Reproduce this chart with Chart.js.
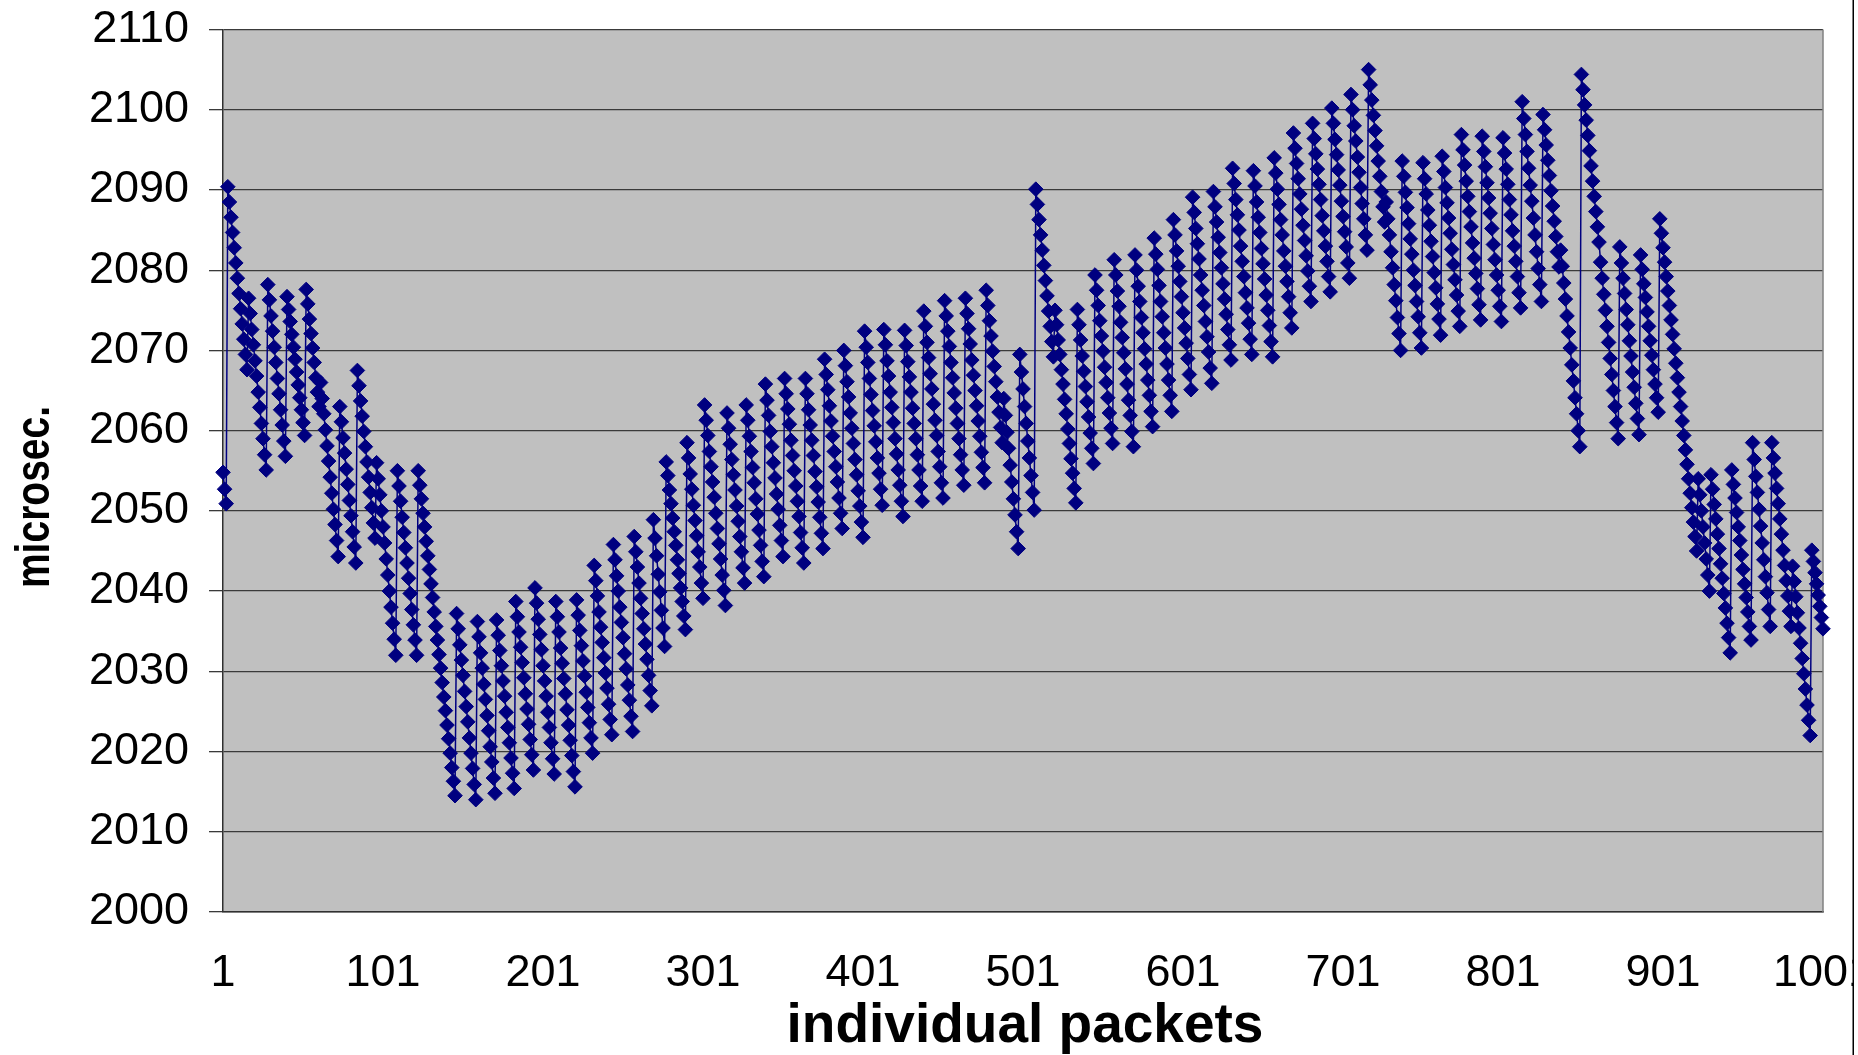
<!DOCTYPE html>
<html>
<head>
<meta charset="utf-8">
<title>Packet delay</title>
<script src="https://cdn.jsdelivr.net/npm/chart.js@4/dist/chart.umd.min.js"></script>
<style>
  html, body { margin: 0; padding: 0; background: #ffffff; }
  #wrap { width: 1858px; height: 1055px; position: relative; }
</style>
</head>
<body>
<div id="wrap"><canvas id="chart"></canvas></div>
<script>
// Tick positions shown on each axis
const packetTicks = [1, 101, 201, 301, 401, 501, 601, 701, 801, 901, 1001];
const delayTicks = [2000, 2010, 2020, 2030, 2040, 2050, 2060, 2070, 2080, 2090, 2100, 2110];

// Axis titles
const xTitle = 'individual packets';
const yTitle = 'microsec.';

// Measured delay of packets 1..1001 (microseconds), one row per sawtooth run
const latency = [
  2054.8, 2052.7, 2050.9,
  2090.4, 2088.5, 2086.6, 2084.7, 2082.8, 2080.9, 2079.0, 2077.1, 2075.2, 2073.3, 2071.4, 2069.5, 2067.6,
  2076.5, 2074.6, 2072.6, 2070.7, 2068.7, 2066.8, 2064.8, 2062.9, 2060.9, 2059.0, 2057.0, 2055.1,
  2078.2, 2076.3, 2074.3, 2072.4, 2070.4, 2068.5, 2066.5, 2064.6, 2062.6, 2060.7, 2058.7, 2056.8,
  2076.7, 2075.1, 2073.6, 2072.0, 2070.4, 2068.9, 2067.3, 2065.7, 2064.1, 2062.6, 2061.0, 2059.4,
  2077.6, 2075.8, 2073.9, 2072.1, 2070.3, 2068.5, 2066.6, 2064.8, 2063.0,
  2066.0, 2064.0, 2062.1, 2060.1, 2058.1, 2056.2, 2054.2, 2052.2, 2050.2, 2048.3, 2046.3, 2044.3,
  2063.0, 2061.1, 2059.1, 2057.2, 2055.2, 2053.3, 2051.3, 2049.4, 2047.4, 2045.5, 2043.5,
  2067.5, 2065.6, 2063.7, 2061.8, 2059.9, 2058.0, 2056.1, 2054.2, 2052.3, 2050.4, 2048.5, 2046.6,
  2056.0, 2054.0, 2052.0, 2050.0, 2048.0, 2046.0, 2044.0, 2042.0, 2040.0, 2038.0, 2036.0, 2034.0, 2032.0,
  2055.0, 2053.1, 2051.2, 2049.2, 2047.3, 2045.4, 2043.5, 2041.6, 2039.7, 2037.7, 2035.8, 2033.9, 2032.0,
  2055.0, 2053.2, 2051.5, 2049.7, 2048.0, 2046.2, 2044.4, 2042.7, 2040.9, 2039.2, 2037.4, 2035.6,
  2033.9, 2032.1, 2030.4, 2028.6, 2026.8, 2025.1, 2023.3, 2021.6, 2019.8, 2018.0, 2016.3, 2014.5,
  2037.2, 2035.3, 2033.3, 2031.4, 2029.5, 2027.5, 2025.6, 2023.7, 2021.7, 2019.8, 2017.9, 2015.9, 2014.0,
  2036.2, 2034.3, 2032.3, 2030.4, 2028.4, 2026.5, 2024.5, 2022.6, 2020.6, 2018.7, 2016.7, 2014.8,
  2036.4, 2034.5, 2032.6, 2030.7, 2028.8, 2026.9, 2024.9, 2023.0, 2021.1, 2019.2, 2017.3, 2015.4,
  2038.7, 2036.8, 2034.9, 2033.0, 2031.1, 2029.2, 2027.2, 2025.3, 2023.4, 2021.5, 2019.6, 2017.7,
  2040.4, 2038.5, 2036.5, 2034.6, 2032.7, 2030.7, 2028.8, 2026.9, 2024.9, 2023.0, 2021.1, 2019.1, 2017.2,
  2038.7, 2036.8, 2034.9, 2032.9, 2031.0, 2029.1, 2027.2, 2025.2, 2023.3, 2021.4, 2019.5, 2017.5, 2015.6,
  2038.9, 2037.0, 2035.1, 2033.2, 2031.3, 2029.4, 2027.4, 2025.5, 2023.6, 2021.7, 2019.8,
  2043.2, 2041.3, 2039.4, 2037.4, 2035.5, 2033.6, 2031.7, 2029.8, 2027.9, 2025.9, 2024.0, 2022.1,
  2045.8, 2043.9, 2041.9, 2040.0, 2038.0, 2036.1, 2034.2, 2032.2, 2030.3, 2028.3, 2026.4, 2024.4, 2022.5,
  2046.8, 2044.9, 2043.0, 2041.0, 2039.1, 2037.2, 2035.3, 2033.4, 2031.5, 2029.5, 2027.6, 2025.7,
  2048.9, 2046.6, 2044.4, 2042.1, 2039.9, 2037.6, 2035.4, 2033.1,
  2056.1, 2054.4, 2052.6, 2050.9, 2049.1, 2047.4, 2045.7, 2043.9, 2042.2, 2040.4, 2038.7, 2036.9, 2035.2,
  2058.5, 2056.6, 2054.6, 2052.7, 2050.7, 2048.8, 2046.9, 2044.9, 2043.0, 2041.0, 2039.1,
  2063.2, 2061.3, 2059.4, 2057.4, 2055.5, 2053.6, 2051.7, 2049.7, 2047.8, 2045.9, 2044.0, 2042.0, 2040.1, 2038.2,
  2062.2, 2060.3, 2058.3, 2056.4, 2054.5, 2052.6, 2050.6, 2048.7, 2046.8, 2044.9, 2042.9, 2041.0,
  2063.2, 2061.3, 2059.3, 2057.4, 2055.4, 2053.5, 2051.5, 2049.6, 2047.6, 2045.7, 2043.7, 2041.8,
  2065.8, 2063.8, 2061.9, 2059.9, 2058.0, 2056.0, 2054.1, 2052.1, 2050.2, 2048.2, 2046.3, 2044.3,
  2066.5, 2064.6, 2062.7, 2060.8, 2058.8, 2056.9, 2055.0, 2053.1, 2051.2, 2049.3, 2047.3, 2045.4, 2043.5,
  2066.5, 2064.6, 2062.6, 2060.7, 2058.8, 2056.9, 2054.9, 2053.0, 2051.1, 2049.2, 2047.2, 2045.3,
  2068.9, 2067.0, 2065.1, 2063.1, 2061.2, 2059.3, 2057.4, 2055.5, 2053.6, 2051.6, 2049.7, 2047.8,
  2070.0, 2068.1, 2066.1, 2064.2, 2062.2, 2060.3, 2058.4, 2056.4, 2054.5, 2052.5, 2050.6, 2048.6, 2046.7,
  2072.4, 2070.4, 2068.5, 2066.5, 2064.5, 2062.5, 2060.6, 2058.6, 2056.6, 2054.7, 2052.7, 2050.7,
  2072.6, 2070.7, 2068.7, 2066.8, 2064.8, 2062.9, 2061.0, 2059.0, 2057.1, 2055.1, 2053.2, 2051.2, 2049.3,
  2072.5, 2070.6, 2068.6, 2066.7, 2064.8, 2062.8, 2060.9, 2059.0, 2057.0, 2055.1, 2053.1, 2051.2,
  2074.9, 2073.0, 2071.0, 2069.1, 2067.1, 2065.2, 2063.3, 2061.3, 2059.4, 2057.4, 2055.5, 2053.5, 2051.6,
  2076.2, 2074.3, 2072.4, 2070.5, 2068.5, 2066.6, 2064.7, 2062.8, 2060.9, 2059.0, 2057.0, 2055.1, 2053.2,
  2076.5, 2074.6, 2072.7, 2070.8, 2068.8, 2066.9, 2065.0, 2063.1, 2061.2, 2059.3, 2057.3, 2055.4, 2053.5,
  2077.5, 2075.6, 2073.7, 2071.8, 2069.9, 2068.0, 2066.1, 2064.2, 2062.3, 2060.4, 2058.5,
  2064.0, 2061.9, 2059.8, 2057.8, 2055.7, 2053.6, 2051.5, 2049.5, 2047.4, 2045.3,
  2069.5, 2067.3, 2065.2, 2063.0, 2060.9, 2058.7, 2056.6, 2054.4, 2052.3, 2050.1,
  2090.1, 2088.2, 2086.3, 2084.4, 2082.5, 2080.6, 2078.7, 2076.8, 2074.9, 2073.0, 2071.1, 2069.2,
  2075.0, 2073.2, 2071.3, 2069.5, 2067.6, 2065.8, 2063.9, 2062.1, 2060.2, 2058.4, 2056.5, 2054.7, 2052.8, 2051.0,
  2075.1, 2073.2, 2071.3, 2069.3, 2067.4, 2065.5, 2063.6, 2061.7, 2059.7, 2057.8, 2055.9,
  2079.4, 2077.5, 2075.6, 2073.7, 2071.8, 2069.9, 2067.9, 2066.0, 2064.1, 2062.2, 2060.3, 2058.4,
  2081.3, 2079.4, 2077.4, 2075.5, 2073.5, 2071.6, 2069.7, 2067.7, 2065.8, 2063.8, 2061.9, 2059.9, 2058.0,
  2081.9, 2080.0, 2078.0, 2076.1, 2074.1, 2072.2, 2070.2, 2068.3, 2066.3, 2064.4, 2062.4, 2060.5,
  2084.0, 2082.0, 2080.1, 2078.1, 2076.1, 2074.2, 2072.2, 2070.3, 2068.3, 2066.3, 2064.4, 2062.4,
  2086.3, 2084.4, 2082.4, 2080.5, 2078.6, 2076.7, 2074.7, 2072.8, 2070.9, 2069.0, 2067.0, 2065.1,
  2089.1, 2087.2, 2085.2, 2083.3, 2081.4, 2079.4, 2077.5, 2075.6, 2073.6, 2071.7, 2069.8, 2067.8, 2065.9,
  2089.8, 2087.9, 2086.0, 2084.1, 2082.2, 2080.3, 2078.3, 2076.4, 2074.5, 2072.6, 2070.7, 2068.8,
  2092.7, 2090.8, 2088.8, 2086.9, 2085.0, 2083.0, 2081.1, 2079.2, 2077.2, 2075.3, 2073.4, 2071.4, 2069.5,
  2092.4, 2090.5, 2088.5, 2086.6, 2084.7, 2082.7, 2080.8, 2078.9, 2076.9, 2075.0, 2073.1, 2071.1, 2069.2,
  2094.0, 2092.1, 2090.1, 2088.2, 2086.3, 2084.4, 2082.4, 2080.5, 2078.6, 2076.7, 2074.7, 2072.8,
  2097.1, 2095.2, 2093.3, 2091.4, 2089.5, 2087.6, 2085.6, 2083.7, 2081.8, 2079.9, 2078.0, 2076.1,
  2098.3, 2096.4, 2094.5, 2092.6, 2090.7, 2088.8, 2086.8, 2084.9, 2083.0, 2081.1, 2079.2, 2077.3,
  2100.2, 2098.3, 2096.3, 2094.4, 2092.5, 2090.6, 2088.6, 2086.7, 2084.8, 2082.9, 2080.9, 2079.0,
  2101.9, 2100.0, 2098.0, 2096.1, 2094.1, 2092.2, 2090.3, 2088.3, 2086.4, 2084.4, 2082.5,
  2105.0, 2103.1, 2101.2, 2099.3, 2097.4, 2095.5, 2093.6, 2091.7, 2089.8, 2087.9, 2086.0,
  2088.5, 2086.4, 2084.4, 2082.3, 2080.3, 2078.2, 2076.2, 2074.1, 2072.1, 2070.0,
  2093.6, 2091.7, 2089.7, 2087.8, 2085.8, 2083.9, 2082.0, 2080.0, 2078.1, 2076.1, 2074.2, 2072.2, 2070.3,
  2093.4, 2091.4, 2089.5, 2087.5, 2085.6, 2083.6, 2081.7, 2079.7, 2077.8, 2075.8, 2073.9, 2071.9,
  2094.2, 2092.3, 2090.3, 2088.4, 2086.5, 2084.6, 2082.6, 2080.7, 2078.8, 2076.9, 2074.9, 2073.0,
  2096.9, 2095.0, 2093.1, 2091.1, 2089.2, 2087.3, 2085.4, 2083.4, 2081.5, 2079.6, 2077.7, 2075.7, 2073.8,
  2096.7, 2094.8, 2092.9, 2090.9, 2089.0, 2087.1, 2085.2, 2083.2, 2081.3, 2079.4, 2077.5, 2075.5, 2073.6,
  2096.5, 2094.6, 2092.6, 2090.7, 2088.8, 2086.9, 2084.9, 2083.0, 2081.1, 2079.2, 2077.2, 2075.3,
  2101.0, 2098.9, 2096.9, 2094.8, 2092.7, 2090.6, 2088.6, 2086.5, 2084.4, 2082.3, 2080.2, 2078.2, 2076.1,
  2099.4, 2097.5, 2095.6, 2093.7, 2091.8, 2089.9, 2088.0, 2086.1, 2084.2, 2082.3, 2080.4,
  2082.5, 2080.5, 2078.4, 2076.4, 2074.3, 2072.3, 2070.3, 2068.2, 2066.2, 2064.1, 2062.1, 2060.0, 2058.0,
  2104.4, 2102.5, 2100.6, 2098.7, 2096.8, 2094.9, 2093.0, 2091.1, 2089.2, 2087.3, 2085.4, 2083.5,
  2081.0, 2079.0, 2077.0, 2075.0, 2073.0, 2071.0, 2069.0, 2067.0, 2065.0, 2063.0, 2061.0, 2059.0,
  2082.9, 2080.9, 2079.0, 2077.1, 2075.1, 2073.2, 2071.2, 2069.3, 2067.3, 2065.4, 2063.4, 2061.5, 2059.5,
  2081.9, 2080.1, 2078.3, 2076.6, 2074.8, 2073.0, 2071.2, 2069.4, 2067.6, 2065.8, 2064.1, 2062.3,
  2086.4, 2084.6, 2082.8, 2081.0, 2079.2, 2077.4, 2075.6, 2073.8, 2072.0, 2070.2, 2068.4, 2066.6,
  2064.8, 2063.0, 2061.2, 2059.4, 2057.6, 2055.8, 2054.0, 2052.2, 2050.4, 2048.6, 2046.8, 2045.0,
  2054.0, 2052.0, 2050.0, 2048.0, 2046.0, 2044.0, 2042.0, 2040.0,
  2054.5, 2052.7, 2050.8, 2049.0, 2047.1, 2045.3, 2043.4, 2041.6, 2039.7, 2037.9, 2036.0, 2034.2, 2032.3,
  2055.1, 2053.3, 2051.6, 2049.8, 2048.0, 2046.3, 2044.5, 2042.7, 2040.9, 2039.2, 2037.4, 2035.6, 2033.9,
  2058.5, 2056.4, 2054.3, 2052.3, 2050.2, 2048.1, 2046.0, 2043.9, 2041.8, 2039.8, 2037.7, 2035.6,
  2058.5, 2056.6, 2054.7, 2052.8, 2050.9, 2049.0, 2047.1, 2045.1, 2043.2, 2041.3, 2039.4, 2037.5, 2035.6,
  2043.1, 2041.2, 2039.3, 2037.3, 2035.4, 2033.5, 2031.6, 2029.7, 2027.8, 2025.8, 2023.9, 2022.0,
  2045.1, 2043.7, 2042.3, 2040.9, 2039.5, 2038.1, 2036.7, 2035.3
];

const FONT = '"Liberation Sans", Arial, Helvetica, sans-serif';
const NAVY = '#000080';

Chart.defaults.font.family = FONT;
Chart.defaults.color = '#000000';

// Grey plot background and the right-hand plot edge
const plotBackground = {
  id: 'plotBackground',
  beforeDraw(chart) {
    const { ctx, chartArea: a } = chart;
    ctx.save();
    ctx.fillStyle = '#c0c0c0';
    ctx.fillRect(a.left, a.top, a.right - a.left, a.bottom - a.top);
    ctx.restore();
  },
  beforeDatasetsDraw(chart) {
    const { ctx, chartArea: a } = chart;
    ctx.save();
    ctx.strokeStyle = '#808080';
    ctx.lineWidth = 1.5;
    ctx.beginPath();
    ctx.moveTo(a.right, a.top);
    ctx.lineTo(a.right, a.bottom);
    ctx.stroke();
    ctx.restore();
  }
};

// Axis titles and the outer frame line on the right
const chartDecor = {
  id: 'chartDecor',
  afterDraw(chart) {
    const { ctx, chartArea: a } = chart;
    ctx.save();
    ctx.fillStyle = '#000000';
    ctx.textAlign = 'center';
    ctx.textBaseline = 'alphabetic';
    ctx.font = 'bold 55px ' + FONT;
    ctx.fillText(xTitle, (a.left + a.right) / 2 + 2, 1042);

    ctx.translate(49, 497);
    ctx.rotate(-Math.PI / 2);
    ctx.scale(1, 1.25);
    ctx.font = 'bold 39px ' + FONT;
    ctx.fillText(yTitle, 0, 0);
    ctx.restore();

    ctx.save();
    ctx.fillStyle = '#ffffff';
    ctx.fillRect(1854, 0, 10, chart.height);
    ctx.strokeStyle = '#000000';
    ctx.lineWidth = 1.5;
    ctx.beginPath();
    ctx.moveTo(1853.25, 0);
    ctx.lineTo(1853.25, chart.height);
    ctx.stroke();
    ctx.restore();
  }
};

new Chart(document.getElementById('chart'), {
  type: 'line',
  data: {
    datasets: [{
      label: 'delay',
      data: latency.map((v, i) => ({ x: i + 1, y: v })),
      borderColor: NAVY,
      borderWidth: 1.5,
      backgroundColor: NAVY,
      pointStyle: 'rectRot',
      pointRadius: 7.3,
      pointHoverRadius: 7.3,
      pointBorderWidth: 1,
      pointBorderColor: NAVY,
      pointBackgroundColor: NAVY,
      tension: 0,
      fill: false,
      clip: false
    }]
  },
  options: {
    responsive: true,
    maintainAspectRatio: false,
    devicePixelRatio: 1,
    animation: false,
    events: [],
    layout: { padding: { top: 29.5, right: 35, left: 0, bottom: 0 } },
    plugins: {
      legend: { display: false },
      tooltip: { enabled: false },
      title: { display: false }
    },
    scales: {
      x: {
        type: 'linear',
        min: 1,
        max: 1001,
        afterBuildTicks(scale) { scale.ticks = packetTicks.map(v => ({ value: v })); },
        afterFit(scale) { scale.height = 143; scale.paddingLeft = 0; scale.paddingRight = 0; },
        grid: { display: false, drawTicks: false },
        border: { display: true, color: '#303030', width: 1.5 },
        ticks: {
          autoSkip: false,
          maxRotation: 0,
          padding: 35,
          color: '#000000',
          font: { size: 45 },
          callback: v => String(v)
        }
      },
      y: {
        min: 2000,
        max: 2110,
        afterBuildTicks(scale) { scale.ticks = delayTicks.map(v => ({ value: v })); },
        afterFit(scale) { scale.width = 223; scale.paddingTop = 0; scale.paddingBottom = 0; },
        grid: { color: '#3a3a3a', lineWidth: 1.3, tickLength: 14, drawTicks: true },
        border: { display: true, color: '#303030', width: 1.5 },
        ticks: {
          padding: 20,
          color: '#000000',
          font: { size: 45 },
          callback: v => String(v)
        }
      }
    }
  },
  plugins: [plotBackground, chartDecor]
});
</script>
</body>
</html>
